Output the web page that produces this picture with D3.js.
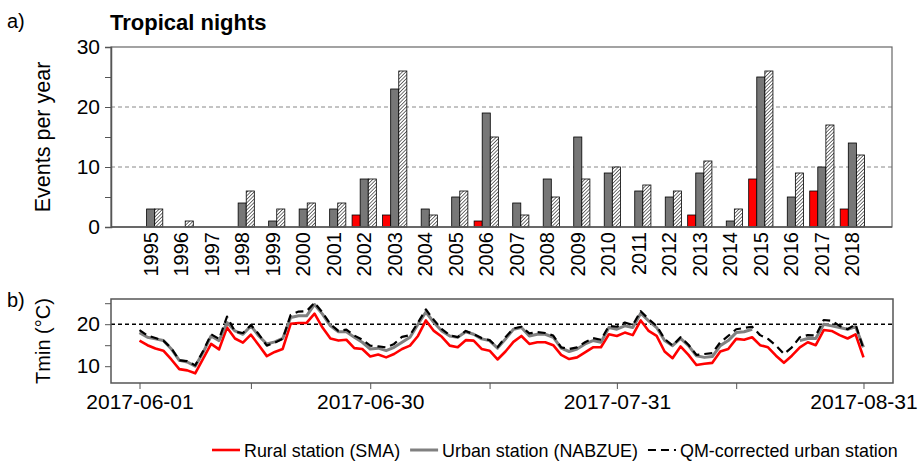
<!DOCTYPE html>
<html>
<head>
<meta charset="utf-8">
<script src="https://cdn.jsdelivr.net/npm/d3@7"></script>
<style>
  body { margin: 0; background: #fff; }
  text { font-family: "Liberation Sans", Arial, sans-serif; fill: #000; }
</style>
</head>
<body>
<script>
// ---- data: tropical nights per year ----
var years = d3.range(1995, 2019);
var rural = [0,0,0,0,0,0,0,2,2,0,0,1,0,0,0,0,0,0,2,0,8,0,6,3];
var urban = [3,0,0,4,1,3,3,8,23,3,5,19,4,8,15,9,6,5,9,1,25,5,10,14];
var qmCorr = [3,1,0,6,3,4,4,8,26,2,6,15,2,5,8,10,7,6,11,3,26,9,17,12];
var yTicksA = [0,10,20,30];

// ---- data: daily Tmin, 2017-06-01 .. 2017-08-31 ----
var tRural = [16.1,15.0,14.2,13.7,11.6,9.3,9.0,8.3,11.8,15.3,14.0,19.2,16.6,15.6,17.5,15.0,12.4,13.4,14.1,20.1,20.3,20.3,22.5,
  19.2,16.6,16.1,16.3,14.3,14.1,12.3,12.8,12.1,12.9,14.1,14.9,17.2,20.9,18.4,17.0,14.9,14.5,16.2,16.1,14.1,13.7,11.6,
  13.5,15.8,17.2,15.3,15.7,15.7,15.0,12.7,11.7,12.1,13.3,14.5,14.5,17.6,17.2,18.0,17.4,20.9,18.4,17.2,13.5,11.9,14.7,
  12.7,10.3,10.6,10.8,13.5,14.1,16.5,16.3,16.9,15.0,14.5,12.5,10.8,12.5,14.5,15.7,15.0,18.6,18.4,17.4,16.6,17.6,12.1];
var tUrban = [18.0,16.9,16.5,16.1,14.1,11.4,11.0,10.0,13.3,17.2,16.1,20.4,18.4,17.6,19.6,17.2,15.3,15.8,16.6,21.6,22.0,22.0,24.7,
  22.4,19.6,18.2,18.2,16.9,15.7,14.1,14.3,13.7,14.5,15.7,16.9,20.0,22.9,20.4,18.4,17.2,16.9,18.2,17.6,16.5,16.1,14.3,
  16.5,18.8,19.2,17.2,17.6,17.6,16.9,14.3,13.5,14.1,15.3,16.1,15.7,19.2,18.8,19.6,19.2,22.6,20.8,19.2,16.1,14.9,16.6,
  14.9,12.5,12.1,12.3,14.9,16.1,18.0,18.2,18.8,null,null,null,null,null,16.1,16.6,16.6,20.0,19.6,19.2,18.8,19.4,14.5];
var tQM = [18.6,17.3,16.7,16.1,14.3,11.4,11.2,10.2,13.6,17.6,16.5,21.8,18.2,17.9,19.8,17.6,14.9,15.6,16.5,22.2,23.0,23.1,25.1,
  22.8,20.0,18.4,18.7,17.3,16.3,14.9,14.7,14.5,15.3,17.0,17.4,20.4,23.5,21.0,18.8,17.4,16.9,18.4,17.6,16.7,16.2,14.5,
  16.9,19.0,19.4,17.8,18.1,17.9,17.3,14.5,14.1,14.5,15.7,16.7,16.3,19.6,19.4,20.4,19.8,23.1,21.2,19.6,16.5,14.9,16.9,
  15.1,12.7,12.9,13.1,15.7,17.2,18.8,19.1,19.4,17.4,16.5,14.9,12.9,14.5,16.9,17.4,17.3,21.0,20.8,19.6,18.8,20.0,14.1];
var dateLabels = ["2017-06-01","2017-06-30","2017-07-31","2017-08-31"];
var dateMinor = ["2017-06-15","2017-07-15","2017-08-15"];
var yTicksB = [10,20];
var threshold = 20;
var legendNames = ["Rural station (SMA)","Urban station (NABZUE)","QM-corrected urban station"];

var W = 920, H = 466;
var parse = d3.utcParse("%Y-%m-%d");
var days = d3.utcDay.range(parse("2017-06-01"), parse("2017-09-01"));

var svg = d3.select("body").append("svg")
  .attr("width", W).attr("height", H);

var defs = svg.append("defs");
var pat = defs.append("pattern")
  .attr("id", "hatch")
  .attr("patternUnits", "userSpaceOnUse")
  .attr("width", 2.5).attr("height", 2.5)
  .attr("patternTransform", "rotate(45)");
pat.append("rect").attr("width", 2.5).attr("height", 2.5).attr("fill", "#fff");
pat.append("line").attr("x1", 0).attr("y1", 0).attr("x2", 0).attr("y2", 2.5)
  .attr("stroke", "#000").attr("stroke-width", 1.1);

var axisCol = "#555";

// ================= panel a =================
var A = {l: 111, r: 892, t: 47, b: 227};
var xA = d3.scaleLinear().domain([1993.7, 2019.3]).range([A.l, A.r]);
var yA = d3.scaleLinear().domain([0, 30]).range([A.b, A.t]);
var bw = xA(1995.265) - xA(1995);

var gA = svg.append("g");

// grid
gA.selectAll(".grid").data([10, 20]).enter().append("line")
  .attr("x1", A.l).attr("x2", A.r)
  .attr("y1", d => yA(d)).attr("y2", d => yA(d))
  .attr("stroke", "#888").attr("stroke-width", 1).attr("stroke-dasharray", "4,3");

var series = [
  {vals: rural, off: -1, fill: "#ff0000"},
  {vals: urban, off: 0, fill: "#777777"},
  {vals: qmCorr, off: 1, fill: "url(#hatch)"}
];
series.forEach(function(s) {
  gA.append("g").selectAll("rect")
    .data(years.map((y, i) => ({y: y, v: s.vals[i]})).filter(d => d.v > 0))
    .enter().append("rect")
    .attr("x", d => xA(d.y) + s.off * bw - bw / 2)
    .attr("width", bw)
    .attr("y", d => yA(d.v))
    .attr("height", d => yA(0) - yA(d.v))
    .attr("fill", s.fill)
    .attr("stroke", "#000").attr("stroke-width", 0.8);
});

// frame
gA.append("rect").attr("x", A.l).attr("y", A.t)
  .attr("width", A.r - A.l).attr("height", A.b - A.t)
  .attr("fill", "none").attr("stroke", "#666").attr("stroke-width", 1.2);

var axA = gA.append("g").attr("transform", "translate(" + A.l + ",0)")
  .call(d3.axisLeft(yA).tickValues(d3.range(0, 31, 5)).tickSize(6)
    .tickFormat(d => yTicksA.indexOf(d) >= 0 ? d : ""));
axA.select(".domain").attr("stroke", axisCol).attr("stroke-width", 1.5);
axA.selectAll(".tick line").attr("stroke", axisCol);
axA.selectAll("text").attr("font-size", 21).attr("fill", "#000").attr("dx", "-2");

gA.append("line").attr("x1", A.l).attr("x2", A.r).attr("y1", A.b).attr("y2", A.b)
  .attr("stroke", axisCol).attr("stroke-width", 1.5);

gA.selectAll(".yr").data(years).enter().append("text")
  .attr("transform", d => "translate(" + (xA(d) + 7) + "," + (A.b + 5) + ") rotate(-90)")
  .attr("text-anchor", "end")
  .attr("font-size", 20)
  .text(d => d);

gA.append("text").attr("transform", "translate(50," + ((A.t + A.b) / 2) + ") rotate(-90)")
  .attr("text-anchor", "middle").attr("font-size", 21.5).text("Events per year");
gA.append("text").attr("x", 110).attr("y", 30).attr("font-size", 22)
  .attr("font-weight", "bold").text("Tropical nights");
svg.append("text").attr("x", 7).attr("y", 28).attr("font-size", 20).text("a)");

// ================= panel b =================
var B = {l: 111, r: 893, t: 299, b: 383};
var xB = d3.scaleUtc()
  .domain([d3.utcHour.offset(parse("2017-06-01"), -86), d3.utcHour.offset(parse("2017-08-31"), 89)])
  .range([B.l, B.r]);
var yB = d3.scaleLinear().domain([6, 26]).range([B.b, B.t]);

var gB = svg.append("g");

gB.append("line").attr("x1", B.l).attr("x2", B.r)
  .attr("y1", yB(threshold)).attr("y2", yB(threshold))
  .attr("stroke", "#000").attr("stroke-width", 1.5).attr("stroke-dasharray", "4,3");

var line = d3.line()
  .defined(d => d.v != null)
  .x(d => xB(d.t)).y(d => yB(d.v));

var lines = [
  {vals: tRural, col: "#ff0000", w: 2.6, dash: null},
  {vals: tUrban, col: "#808080", w: 3, dash: null},
  {vals: tQM, col: "#000", w: 2.2, dash: "8,5"}
];
lines.forEach(function(s) {
  gB.append("path")
    .datum(days.map((t, i) => ({t: t, v: s.vals[i]})))
    .attr("d", line)
    .attr("fill", "none")
    .attr("stroke", s.col).attr("stroke-width", s.w)
    .attr("stroke-linejoin", "round")
    .attr("stroke-dasharray", s.dash);
});

gB.append("rect").attr("x", B.l).attr("y", B.t)
  .attr("width", B.r - B.l).attr("height", B.b - B.t)
  .attr("fill", "none").attr("stroke", axisCol).attr("stroke-width", 1.5);

var axBy = gB.append("g").attr("transform", "translate(" + B.l + ",0)")
  .call(d3.axisLeft(yB).tickValues([10, 15, 20, 25]).tickSize(6)
    .tickFormat(d => yTicksB.indexOf(d) >= 0 ? d : ""));
axBy.select(".domain").remove();
axBy.selectAll(".tick line").attr("stroke", axisCol);
axBy.selectAll("text").attr("font-size", 21).attr("fill", "#000").attr("dx", "-2");

var tickDates = dateLabels.concat(dateMinor).map(parse);
var axBx = gB.append("g").attr("transform", "translate(0," + B.b + ")")
  .call(d3.axisBottom(xB).tickValues(tickDates).tickSize(6)
    .tickFormat(d => {
      var s = d3.utcFormat("%Y-%m-%d")(d);
      return dateLabels.indexOf(s) >= 0 ? s : "";
    }));
axBx.select(".domain").remove();
axBx.selectAll(".tick line").attr("stroke", axisCol);
axBx.selectAll("text").attr("font-size", 21).attr("fill", "#000").attr("dy", "0.8em");

gB.append("text").attr("transform", "translate(50," + ((B.t + B.b) / 2) + ") rotate(-90)")
  .attr("text-anchor", "middle").attr("font-size", 20).text("Tmin (°C)");
svg.append("text").attr("x", 7).attr("y", 307).attr("font-size", 20).text("b)");

// ================= legend =================
var leg = svg.append("g").attr("transform", "translate(212,450)");
var lx = 0;
lines.forEach(function(s, i) {
  leg.append("line").attr("x1", lx).attr("x2", lx + 28).attr("y1", 0).attr("y2", 0)
    .attr("stroke", s.col).attr("stroke-width", s.w)
    .attr("stroke-dasharray", s.dash ? "8,5" : null);
  var t = leg.append("text").attr("x", lx + 32).attr("y", 6.5)
    .attr("font-size", 17.9).text(legendNames[i]);
  lx += 32 + t.node().getComputedTextLength() + 10;
});
</script>
</body>
</html>
